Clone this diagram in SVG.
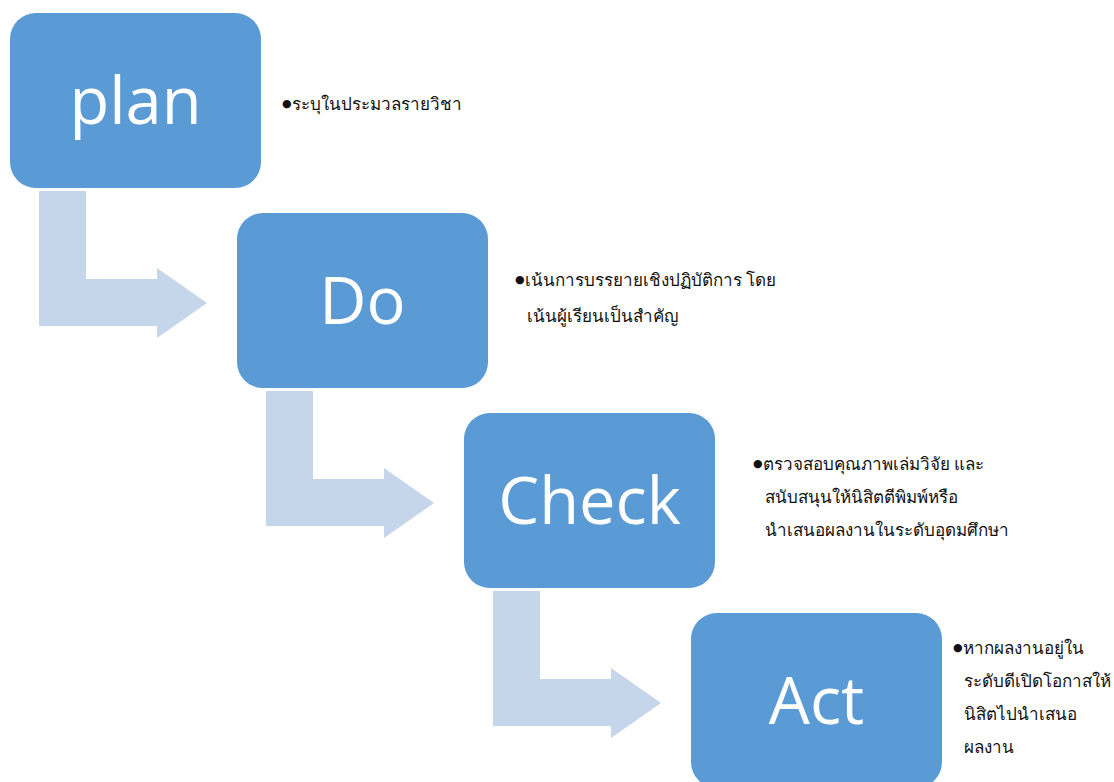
<svg xmlns="http://www.w3.org/2000/svg" width="1114" height="782" viewBox="0 0 1114 782">
<style>
.box{fill:#5B9BD5;}
.lbl{font-family:"Open Sans","Liberation Sans",sans-serif;font-size:65px;fill:#fff;text-anchor:middle;}
.arr{fill:#C5D5EA;}
.th{font-family:"Noto Sans","DejaVu Sans",sans-serif;font-size:17px;fill:#111;}
.bul{font-size:11px;}
</style>
<rect width="1114" height="782" fill="#fff"/>
<defs>
<path id="bent" d="M0,0 H47 V88 H118 V77 L168,112 L118,147 V135 H0 Z"/>
</defs>
<g id="connectors">
<use href="#bent" class="arr" x="39" y="191"/>
<use href="#bent" class="arr" x="266" y="391"/>
<use href="#bent" class="arr" x="493" y="591"/>
</g>
<g id="plan">
<rect class="box" x="10" y="13" width="251" height="175" rx="26"/>
<text class="lbl" x="135.5" y="124">plan</text>
<text class="th" x="282" y="110"><tspan class="bul" dy="-3">●</tspan><tspan dy="3">ระบุในประมวลรายวิชา</tspan></text>
</g>
<g id="do">
<rect class="box" x="237" y="213" width="251" height="175" rx="26"/>
<text class="lbl" x="362.5" y="324">Do</text>
<text class="th" x="515" y="286"><tspan class="bul" dy="-3">●</tspan><tspan dy="3">เน้นการบรรยายเชิงปฏิบัติการ โดย</tspan></text>
<text class="th" x="527" y="322">เน้นผู้เรียนเป็นสำคัญ</text>
</g>
<g id="check">
<rect class="box" x="464" y="413" width="251" height="175" rx="26"/>
<text class="lbl" x="589.5" y="524">Check</text>
<text class="th" x="753" y="470"><tspan class="bul" dy="-3">●</tspan><tspan dy="3">ตรวจสอบคุณภาพเล่มวิจัย และ</tspan></text>
<text class="th" x="765" y="503">สนับสนุนให้นิสิตตีพิมพ์หรือ</text>
<text class="th" x="765" y="536">นำเสนอผลงานในระดับอุดมศึกษา</text>
</g>
<g id="act">
<rect class="box" x="691" y="613" width="251" height="175" rx="26"/>
<text class="lbl" x="816.5" y="724">Act</text>
<text class="th" x="953" y="654"><tspan class="bul" dy="-3">●</tspan><tspan dy="3">หากผลงานอยู่ใน</tspan></text>
<text class="th" x="964" y="687">ระดับดีเปิดโอกาสให้</text>
<text class="th" x="964" y="720">นิสิตไปนำเสนอ</text>
<text class="th" x="964" y="753">ผลงาน</text>
</g>
</svg>
